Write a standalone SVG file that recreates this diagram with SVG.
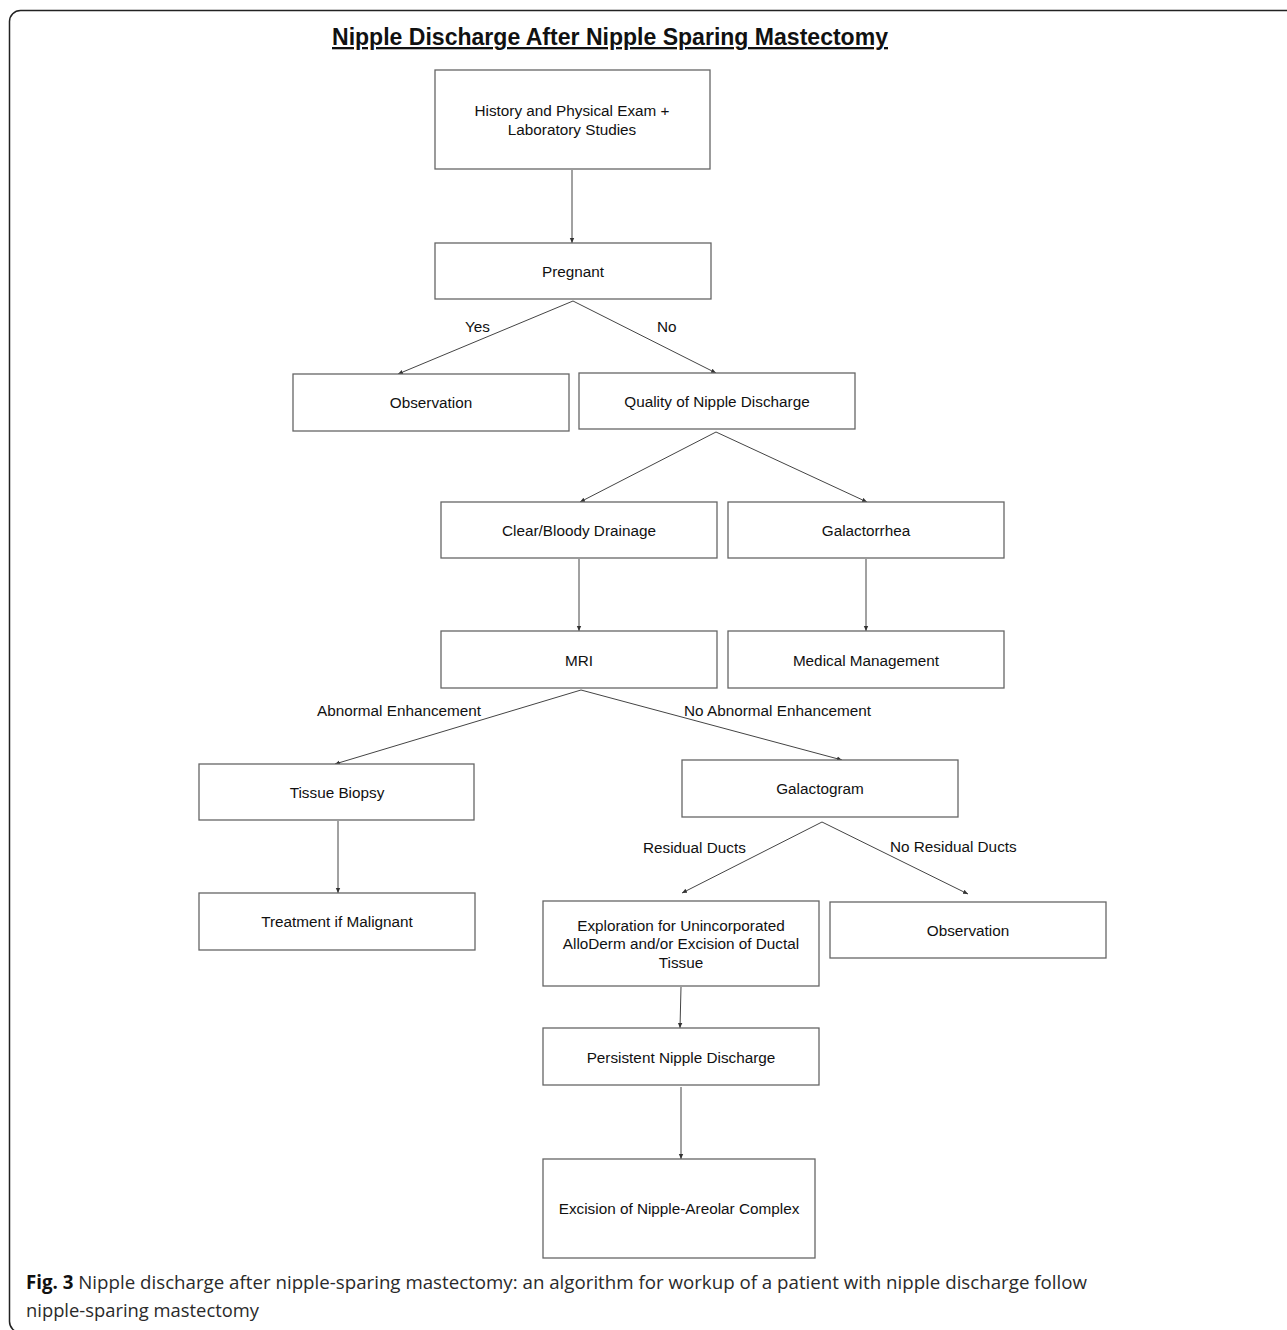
<svg xmlns="http://www.w3.org/2000/svg" width="1287" height="1330" viewBox="0 0 1287 1330">
<style>
.box{fill:#fff;stroke:#666;stroke-width:1.3}
.t{font-family:"Liberation Sans",Arial,sans-serif;font-size:15.3px;fill:#111;text-anchor:middle}
.lb{font-family:"Liberation Sans",Arial,sans-serif;font-size:15.3px;fill:#111}
.c{stroke:#444;stroke-width:1;fill:none;marker-end:url(#ah)}
.cap{font-family:"Open Sans","Liberation Sans",sans-serif;font-size:19px;fill:#2a2a2a}
</style>
<defs>
<marker id="ah" markerWidth="6" markerHeight="6" refX="5" refY="3" orient="auto" markerUnits="userSpaceOnUse">
<path d="M0,0.8 L5,3 L0,5.2 z" fill="#333"/>
</marker>
</defs>
<rect width="1287" height="1330" fill="#fff"/>
<rect x="9.5" y="10.5" width="1300" height="1322" rx="11" fill="none" stroke="#222" stroke-width="1.5"/>
<text x="332" y="45" font-family="Liberation Sans,Arial,sans-serif" font-size="23" font-weight="bold" text-decoration="underline" fill="#111" textLength="556" lengthAdjust="spacingAndGlyphs">Nipple Discharge After Nipple Sparing Mastectomy</text>
<g id="connectors">
<line class="c" x1="572" y1="170" x2="572" y2="243"/>
<line class="c" x1="573" y1="301" x2="398" y2="374"/>
<line class="c" x1="573" y1="301" x2="716" y2="373"/>
<line class="c" x1="716" y1="432" x2="580" y2="502"/>
<line class="c" x1="716" y1="432" x2="867" y2="502"/>
<line class="c" x1="579" y1="559" x2="579" y2="631"/>
<line class="c" x1="866" y1="559" x2="866" y2="631"/>
<line class="c" x1="581" y1="690" x2="335" y2="764"/>
<line class="c" x1="581" y1="690" x2="842" y2="760"/>
<line class="c" x1="338" y1="821" x2="338" y2="893"/>
<line class="c" x1="822" y1="822" x2="682" y2="893"/>
<line class="c" x1="822" y1="822" x2="968" y2="894"/>
<line class="c" x1="681" y1="987" x2="680" y2="1028"/>
<line class="c" x1="681" y1="1087" x2="681" y2="1159"/>
<text class="lb" x="465" y="332">Yes</text>
<text class="lb" x="657" y="332">No</text>
<text class="lb" x="317" y="716">Abnormal Enhancement</text>
<text class="lb" x="684" y="716">No Abnormal Enhancement</text>
<text class="lb" x="643" y="853">Residual Ducts</text>
<text class="lb" x="890" y="852">No Residual Ducts</text>
</g>
<g id="n-history"><rect class="box" x="435" y="70" width="275" height="99"/><text class="t" x="572" y="116">History and Physical Exam +</text><text class="t" x="572" y="135">Laboratory Studies</text></g>
<g id="n-pregnant"><rect class="box" x="435" y="243" width="276" height="56"/><text class="t" x="573" y="277">Pregnant</text></g>
<g id="n-observation1"><rect class="box" x="293" y="374" width="276" height="57"/><text class="t" x="431" y="408">Observation</text></g>
<g id="n-quality"><rect class="box" x="579" y="373" width="276" height="56"/><text class="t" x="717" y="407">Quality of Nipple Discharge</text></g>
<g id="n-clear"><rect class="box" x="441" y="502" width="276" height="56"/><text class="t" x="579" y="536">Clear/Bloody Drainage</text></g>
<g id="n-galactorrhea"><rect class="box" x="728" y="502" width="276" height="56"/><text class="t" x="866" y="536">Galactorrhea</text></g>
<g id="n-mri"><rect class="box" x="441" y="631" width="276" height="57"/><text class="t" x="579" y="666">MRI</text></g>
<g id="n-medical"><rect class="box" x="728" y="631" width="276" height="57"/><text class="t" x="866" y="666">Medical Management</text></g>
<g id="n-biopsy"><rect class="box" x="199" y="764" width="275" height="56"/><text class="t" x="337" y="798">Tissue Biopsy</text></g>
<g id="n-galactogram"><rect class="box" x="682" y="760" width="276" height="57"/><text class="t" x="820" y="794">Galactogram</text></g>
<g id="n-treatment"><rect class="box" x="199" y="893" width="276" height="57"/><text class="t" x="337" y="927">Treatment if Malignant</text></g>
<g id="n-exploration"><rect class="box" x="543" y="901" width="276" height="85"/><text class="t" x="681" y="931">Exploration for Unincorporated</text><text class="t" x="681" y="949">AlloDerm and/or Excision of Ductal</text><text class="t" x="681" y="968">Tissue</text></g>
<g id="n-observation2"><rect class="box" x="830" y="902" width="276" height="56"/><text class="t" x="968" y="936">Observation</text></g>
<g id="n-persistent"><rect class="box" x="543" y="1028" width="276" height="57"/><text class="t" x="681" y="1063">Persistent Nipple Discharge</text></g>
<g id="n-excision"><rect class="box" x="543" y="1159" width="272" height="99"/><text class="t" x="679" y="1214">Excision of Nipple-Areolar Complex</text></g>
<text class="cap" x="26" y="1289" textLength="1061" lengthAdjust="spacingAndGlyphs"><tspan font-weight="bold" fill="#111">Fig. 3</tspan> Nipple discharge after nipple-sparing mastectomy: an algorithm for workup of a patient with nipple discharge follow</text>
<text class="cap" x="26" y="1317" textLength="233" lengthAdjust="spacingAndGlyphs">nipple-sparing mastectomy</text>
</svg>
